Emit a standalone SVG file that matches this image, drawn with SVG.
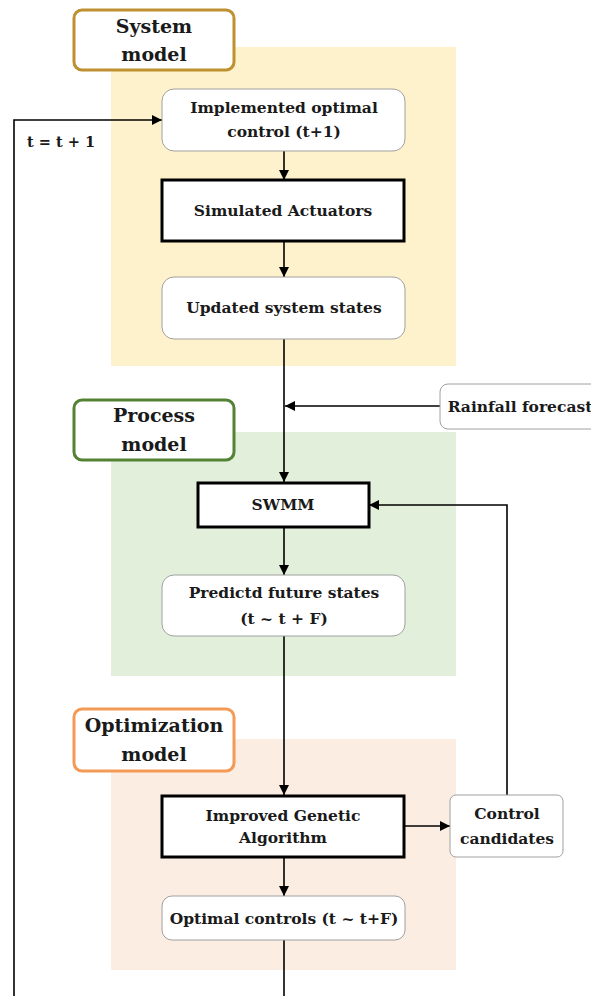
<svg xmlns="http://www.w3.org/2000/svg" width="591" height="996" viewBox="0 0 591 996">
<defs>
<marker id="ah" viewBox="0 0 10 10" refX="10" refY="5" markerWidth="10" markerHeight="10" markerUnits="userSpaceOnUse" orient="auto">
<path d="M0,0 L10,5 L0,10 Z" fill="#000"/>
</marker>
<style>
text{font-family:"DejaVu Serif","Liberation Serif",serif;font-weight:bold;fill:#1a1a1a;text-anchor:middle}
.t{font-size:15.5px}
.lbl{font-size:19px}
.rnd{fill:#fff;stroke:#a0a0a0;stroke-width:1}
.thk{fill:#fff;stroke:#000;stroke-width:3}
.c{fill:none;stroke:#000;stroke-width:1.6}
</style>
</defs>
<rect x="111" y="47" width="345" height="319" fill="#fef2cc"/>
<rect x="111" y="432" width="345" height="244" fill="#e2efda"/>
<rect x="111" y="739" width="345" height="231" fill="#fbede1"/>

<g id="connectors">
<path class="c" d="M284,151 V180" marker-end="url(#ah)"/>
<path class="c" d="M284,241 V277" marker-end="url(#ah)"/>
<path class="c" d="M284,339 V482" marker-end="url(#ah)"/>
<path class="c" d="M440,406 H285" marker-end="url(#ah)"/>
<path class="c" d="M284,527 V575" marker-end="url(#ah)"/>
<path class="c" d="M284,636 V795" marker-end="url(#ah)"/>
<path class="c" d="M405,826 H450" marker-end="url(#ah)"/>
<path class="c" d="M507,795 V505 H369" marker-end="url(#ah)"/>
<path class="c" d="M284,857 V896" marker-end="url(#ah)"/>
<path class="c" d="M284,940 V996"/>
<path class="c" d="M14,996 V120 H162" marker-end="url(#ah)"/>
<text x="61" y="147" style="font-size:14.5px">t = t + 1</text>
</g>

<g id="system-model-label">
<rect x="74" y="10" width="160" height="60" rx="8" fill="#fff" stroke="#bf9030" stroke-width="3"/>
<text class="lbl" x="154" y="33">System</text>
<text class="lbl" x="154" y="61">model</text>
</g>
<g id="implemented-control">
<rect class="rnd" x="162" y="89" width="243" height="62" rx="12"/>
<text class="t" x="284" y="113">Implemented optimal</text>
<text class="t" x="284" y="137">control (t+1)</text>
</g>
<g id="simulated-actuators">
<rect class="thk" x="162" y="180" width="242" height="61"/>
<text class="t" x="283" y="216">Simulated Actuators</text>
</g>
<g id="updated-states">
<rect class="rnd" x="162" y="277" width="243" height="62" rx="12"/>
<text class="t" x="284" y="313">Updated system states</text>
</g>
<g id="rainfall-forecast">
<rect class="rnd" x="440" y="384" width="160" height="45" rx="8"/>
<text class="t" x="520" y="412">Rainfall forecast</text>
</g>
<g id="process-model-label">
<rect x="74" y="400" width="160" height="60" rx="8" fill="#fff" stroke="#548235" stroke-width="3"/>
<text class="lbl" x="154" y="422">Process</text>
<text class="lbl" x="154" y="451">model</text>
</g>
<g id="swmm">
<rect class="thk" x="198" y="483" width="171" height="44"/>
<text class="t" x="283" y="510">SWMM</text>
</g>
<g id="predicted-states">
<rect class="rnd" x="162" y="575" width="243" height="61" rx="12"/>
<text class="t" x="284" y="598">Predictd future states</text>
<text class="t" x="284" y="624">(t ~ t + F)</text>
</g>
<g id="optimization-model-label">
<rect x="74" y="709" width="160" height="62" rx="8" fill="#fff" stroke="#f39a57" stroke-width="3"/>
<text class="lbl" x="154" y="732">Optimization</text>
<text class="lbl" x="154" y="761">model</text>
</g>
<g id="genetic-algorithm">
<rect class="thk" x="162" y="796" width="242" height="61"/>
<text class="t" x="283" y="821">Improved Genetic</text>
<text class="t" x="283" y="843">Algorithm</text>
</g>
<g id="control-candidates">
<rect class="rnd" x="450" y="795" width="113" height="62" rx="6"/>
<text class="t" x="507" y="819">Control</text>
<text class="t" x="507" y="844">candidates</text>
</g>
<g id="optimal-controls">
<rect class="rnd" x="162" y="896" width="243" height="44" rx="10"/>
<text class="t" x="284" y="924">Optimal controls (t ~ t+F)</text>
</g>
</svg>
